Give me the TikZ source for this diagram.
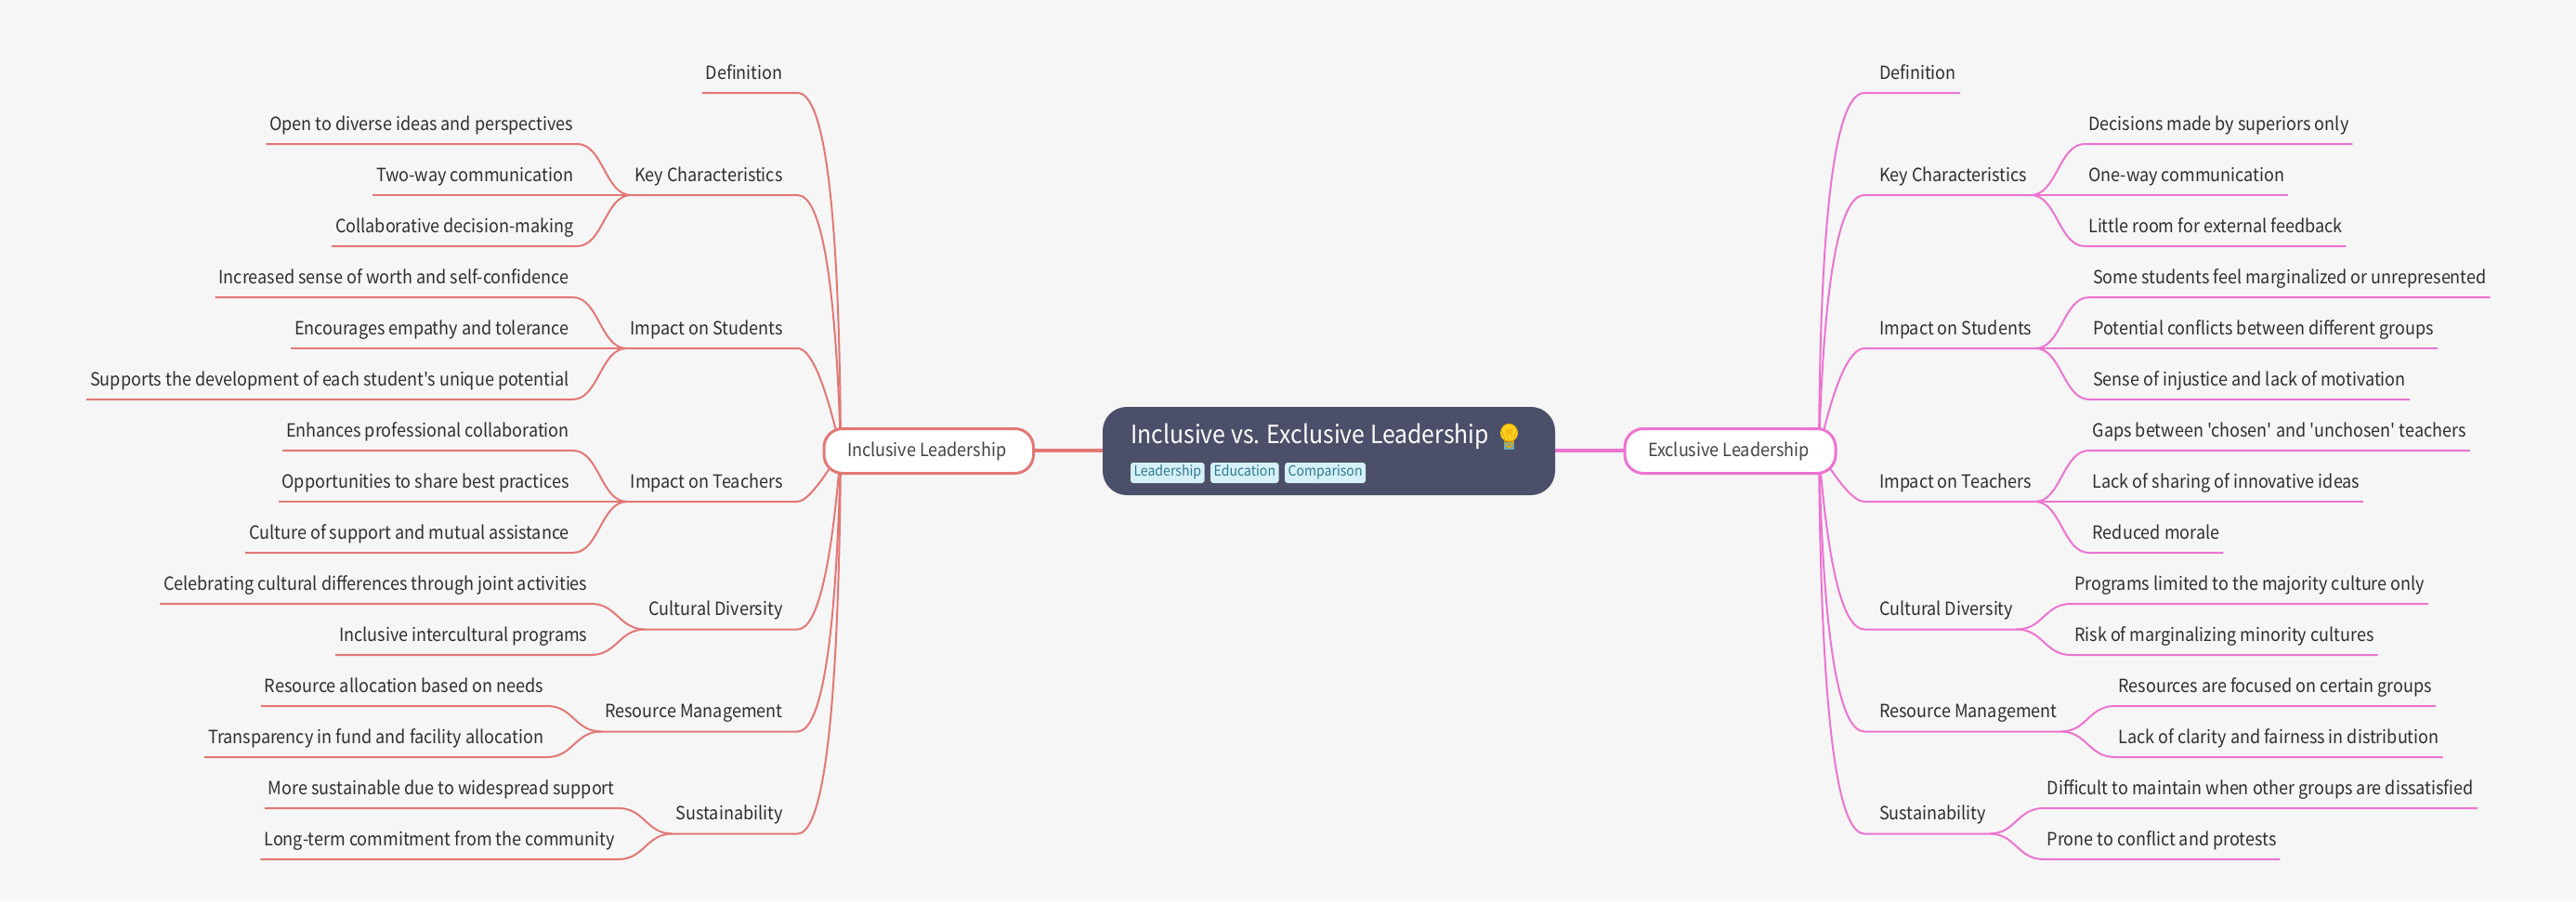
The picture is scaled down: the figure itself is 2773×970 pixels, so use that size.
\documentclass[tikz,border=0pt]{standalone}
\usepackage{fontspec}
\usetikzlibrary{positioning,calc,backgrounds}
\newfontfamily\mapfont[FakeStretch=0.92]{Noto Sans CJK SC}
\newfontfamily\emojifont{Noto Emoji}
\definecolor{pagecol}{HTML}{F6F6F6}
\definecolor{rootcol}{HTML}{4C4F69}
\definecolor{tagcol}{HTML}{D6F0F8}
\definecolor{tagtext}{HTML}{2F7A90}
\definecolor{inkcol}{HTML}{2F2F2F}
\definecolor{redcol}{HTML}{E27876}
\definecolor{pinkcol}{HTML}{EC74D0}
\definecolor{bulbcol}{HTML}{FFD21F}
\definecolor{bulbline}{HTML}{E8A800}
\definecolor{bulbbase}{HTML}{6FA8B5}
\tikzset{
  redline/.style={draw=redcol,line width=2pt},
  pinkline/.style={draw=pinkcol,line width=2pt},
  plain node/.style={font=\mapfont\fontsize{19.6}{24}\selectfont,text=inkcol,inner xsep=4pt,inner ysep=0pt,outer sep=0pt,text height=15pt,text depth=15pt},
  main node/.style={font=\mapfont\fontsize{19.6}{24}\selectfont,text=inkcol!90,fill=white,rounded corners=20pt,line width=3pt,minimum height=48pt,inner xsep=25pt,inner ysep=0pt,text width=175.5pt,align=flush left},
  tag node/.style={font=\mapfont\fontsize{15.3}{20}\selectfont,fill=tagcol,text=tagtext,rounded corners=3pt,inner xsep=3.5pt,inner ysep=0pt,text height=14pt,text depth=8pt,outer sep=0pt}
}
\newcommand{\branchl}[2]{
  \coordinate (st) at ($(#1.south east)+(12pt,0)$);
  \coordinate (ctl) at (#2,0 |- st);
  \draw[redline] (#1.south west) -- (st) .. controls ($(st)!.667!(ctl)$) and ($(hubl)!.667!(ctl)$) .. (hubl);
}
\newcommand{\branchr}[2]{
  \coordinate (st) at ($(#1.south west)+(-12pt,0)$);
  \coordinate (ctl) at (#2,0 |- st);
  \draw[pinkline] (#1.south east) -- (st) .. controls ($(st)!.667!(ctl)$) and ($(hubr)!.667!(ctl)$) .. (hubr);
}
\newcommand{\twigl}[2]{
  \draw[redline] (#1.south west) -- (#1.south east) .. controls ($(#1.south east)+(28pt,0)$) and ($(#2.south west)+(-28pt,0)$) .. (#2.south west);
}
\newcommand{\twigr}[2]{
  \draw[pinkline] (#1.south east) -- (#1.south west) .. controls ($(#1.south west)+(-28pt,0)$) and ($(#2.south east)+(28pt,0)$) .. (#2.south east);
}
\begin{document}
\begin{tikzpicture}[x=1pt,y=-1pt,node distance=25pt and 58pt]
  \useasboundingbox (0,0) rectangle (2773,970);

  \node[fill=rootcol,rounded corners=26pt,minimum width=487pt,minimum height=95pt,outer sep=0pt] (root) at (1430.5,485.5) {};
  \node[anchor=base west,inner sep=0pt,text=white,font=\mapfont\fontsize{27}{32}\selectfont] (title) at (1217,477) {Inclusive vs. Exclusive Leadership};
  \fill[bulbcol] (1624.5,466) circle (9.5pt);
  \fill[bulbbase] (1619,476) rectangle (1630,483.5);
  \node[inner sep=0pt,text=bulbline,font=\emojifont\fontsize{26}{26}\selectfont] (bulb) at (1624.5,470) {💡};
  \node[tag node,anchor=north west] (tag1) at (1217,498) {Leadership};
  \node[tag node,right=6.5pt of tag1] (tag2) {Education};
  \node[tag node,right=6.5pt of tag2] (tag3) {Comparison};

  \node[main node,draw=redcol,anchor=west] (inc) at (885.5,485.5) {Inclusive Leadership};
  \node[main node,draw=pinkcol,anchor=east,text width=177pt] (exc) at (1977.5,485.5) {Exclusive Leadership};
  \coordinate (hubl) at (905,485);
  \coordinate (hubr) at (1958,485);

  \begin{scope}[every node/.style={plain node,anchor=south east}]
    \node (ldef) at (846.5,100) {Definition};
    \node (lkey) at (846.5,210) {Key Characteristics};
    \node (lstu) at (846.5,375) {Impact on Students};
    \node (ltea) at (846.5,540) {Impact on Teachers};
    \node (lcul) at (846.5,677.5) {Cultural Diversity};
    \node (lres) at (846.5,787.5) {Resource Management};
    \node (lsus) at (846.5,897.5) {Sustainability};
  \end{scope}
  \begin{scope}[every node/.style={plain node,anchor=south west}]
    \node (rdef) at (2019,100) {Definition};
    \node (rkey) at (2019,210) {Key Characteristics};
    \node (rstu) at (2019,375) {Impact on Students};
    \node (rtea) at (2019,540) {Impact on Teachers};
    \node (rcul) at (2019,677.5) {Cultural Diversity};
    \node (rres) at (2019,787.5) {Resource Management};
    \node (rsus) at (2019,897.5) {Sustainability};
  \end{scope}

  \begin{scope}[every node/.style={plain node}]
    \node (lkey1) [above left=of lkey] {Open to diverse ideas and perspectives};
    \node (lkey2) [left=of lkey] {Two-way communication};
    \node (lkey3) [below left=of lkey] {Collaborative decision-making};
    \node (lstu1) [above left=of lstu] {Increased sense of worth and self-confidence};
    \node (lstu2) [left=of lstu] {Encourages empathy and tolerance};
    \node (lstu3) [below left=of lstu] {Supports the development of each student's unique potential};
    \node (ltea1) [above left=of ltea] {Enhances professional collaboration};
    \node (ltea2) [left=of ltea] {Opportunities to share best practices};
    \node (ltea3) [below left=of ltea] {Culture of support and mutual assistance};
    \node (lcul1) [above left=-2.5pt and 58pt of lcul] {Celebrating cultural differences through joint activities};
    \node (lcul2) [below left=-2.5pt and 58pt of lcul] {Inclusive intercultural programs};
    \node (lres1) [above left=-2.5pt and 58pt of lres] {Resource allocation based on needs};
    \node (lres2) [below left=-2.5pt and 58pt of lres] {Transparency in fund and facility allocation};
    \node (lsus1) [above left=-2.5pt and 58pt of lsus] {More sustainable due to widespread support};
    \node (lsus2) [below left=-2.5pt and 58pt of lsus] {Long-term commitment from the community};

    \node (rkey1) [above right=of rkey] {Decisions made by superiors only};
    \node (rkey2) [right=of rkey] {One-way communication};
    \node (rkey3) [below right=of rkey] {Little room for external feedback};
    \node (rstu1) [above right=of rstu] {Some students feel marginalized or unrepresented};
    \node (rstu2) [right=of rstu] {Potential conflicts between different groups};
    \node (rstu3) [below right=of rstu] {Sense of injustice and lack of motivation};
    \node (rtea1) [above right=of rtea] {Gaps between 'chosen' and 'unchosen' teachers};
    \node (rtea2) [right=of rtea] {Lack of sharing of innovative ideas};
    \node (rtea3) [below right=of rtea] {Reduced morale};
    \node (rcul1) [above right=-2.5pt and 58pt of rcul] {Programs limited to the majority culture only};
    \node (rcul2) [below right=-2.5pt and 58pt of rcul] {Risk of marginalizing minority cultures};
    \node (rres1) [above right=-2.5pt and 58pt of rres] {Resources are focused on certain groups};
    \node (rres2) [below right=-2.5pt and 58pt of rres] {Lack of clarity and fairness in distribution};
    \node (rsus1) [above right=-2.5pt and 58pt of rsus] {Difficult to maintain when other groups are dissatisfied};
    \node (rsus2) [below right=-2.5pt and 58pt of rsus] {Prone to conflict and protests};
  \end{scope}

  \begin{scope}[on background layer]
    \fill[pagecol] (0,0) rectangle (2773,970);
    \draw[draw=redcol,line width=4pt] (root.west |- 0,485) -- (inc.east |- 0,485);
    \draw[draw=pinkcol,line width=4pt] (root.east |- 0,485) -- (exc.west |- 0,485);
    \foreach \stem/\ctlx in {ldef/903,lkey/897,lstu/880,ltea/872,lcul/890,lres/898,lsus/902}
      {\branchl{\stem}{\ctlx}}
    \foreach \stem/\ctlx in {rdef/1960,rkey/1966,rstu/1983,rtea/1991,rcul/1973,rres/1965,rsus/1961}
      {\branchr{\stem}{\ctlx}}
    \foreach \twig/\stem in {lkey1/lkey,lkey2/lkey,lkey3/lkey,lstu1/lstu,lstu2/lstu,lstu3/lstu,ltea1/ltea,ltea2/ltea,ltea3/ltea,lcul1/lcul,lcul2/lcul,lres1/lres,lres2/lres,lsus1/lsus,lsus2/lsus}
      {\twigl{\twig}{\stem}}
    \foreach \twig/\stem in {rkey1/rkey,rkey2/rkey,rkey3/rkey,rstu1/rstu,rstu2/rstu,rstu3/rstu,rtea1/rtea,rtea2/rtea,rtea3/rtea,rcul1/rcul,rcul2/rcul,rres1/rres,rres2/rres,rsus1/rsus,rsus2/rsus}
      {\twigr{\twig}{\stem}}
  \end{scope}
\end{tikzpicture}
\end{document}
